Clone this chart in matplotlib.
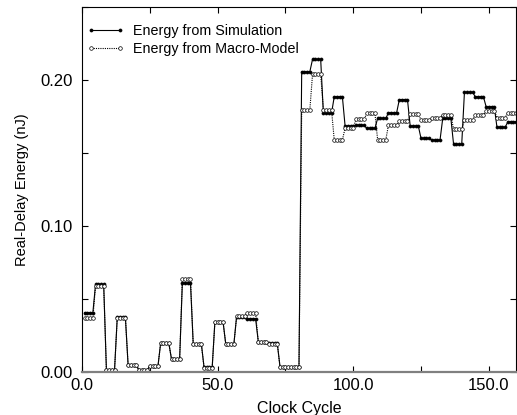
import numpy as np
import matplotlib
matplotlib.use('Agg')
import matplotlib.pyplot as plt
from matplotlib.ticker import MultipleLocator, FormatStrFormatter

plt.rcParams['font.family'] = ['Liberation Sans', 'DejaVu Sans']

# energy per block of 4 clock cycles (nJ)
sim_levels = [0.0406, 0.0600, 0.0014, 0.0375, 0.0048, 0.0014, 0.0040, 0.0199, 0.0089, 0.0610,
              0.0194, 0.0032, 0.0345, 0.0192, 0.0379, 0.0365, 0.0208, 0.0196, 0.0037, 0.0037,
              0.2057, 0.2142, 0.1772, 0.1886, 0.1685, 0.1690, 0.1669, 0.1737, 0.1776, 0.1866,
              0.1685, 0.1600, 0.1589, 0.1737, 0.1560, 0.1916, 0.1886, 0.1817, 0.1676, 0.1714]
macro_levels = [0.0368, 0.0590, 0.0014, 0.0372, 0.0046, 0.0012, 0.0038, 0.0197, 0.0087, 0.0635,
                0.0192, 0.0030, 0.0343, 0.0190, 0.0383, 0.0404, 0.0206, 0.0194, 0.0035, 0.0035,
                0.1795, 0.2041, 0.1795, 0.1590, 0.1670, 0.1730, 0.1772, 0.1590, 0.1692, 0.1717,
                0.1767, 0.1726, 0.1737, 0.1762, 0.1662, 0.1726, 0.1760, 0.1790, 0.1742, 0.1776]
block_len = 4

cycles = np.arange(1, len(sim_levels) * block_len + 1)
sim_energy = np.repeat(sim_levels, block_len)
macro_energy = np.repeat(macro_levels, block_len)

fig = plt.figure(figsize=(5.17, 4.15), dpi=100)
ax = fig.add_axes([0.1586, 0.1036, 0.8394, 0.8794])

ax.plot(cycles, sim_energy, color='black', linewidth=0.8, linestyle='-',
        marker='o', markersize=2.2, markerfacecolor='black', markeredgewidth=0.5,
        label='Energy from Simulation')
ax.plot(cycles, macro_energy, color='black', linewidth=0.8, linestyle=(0, (1, 1)),
        marker='o', markersize=2.6, markerfacecolor='white', markeredgewidth=0.5,
        label='Energy from Macro-Model')

ax.set_xlim(0, 160)
ax.set_ylim(0, 0.25)
ax.xaxis.set_major_locator(MultipleLocator(50))
ax.xaxis.set_minor_locator(MultipleLocator(25))
ax.yaxis.set_major_locator(MultipleLocator(0.1))
ax.yaxis.set_minor_locator(MultipleLocator(0.05))
ax.xaxis.set_major_formatter(FormatStrFormatter('%.1f'))
ax.yaxis.set_major_formatter(FormatStrFormatter('%.2f'))
ax.tick_params(which='both', direction='in', top=True, right=True, labelsize=12)
ax.tick_params(which='major', length=4, width=0.8)
ax.tick_params(which='minor', length=4, width=0.8)
ax.tick_params(axis='y', pad=7)
ax.tick_params(axis='x', pad=4)

for side in ['top', 'right', 'left']:
    ax.spines[side].set_linewidth(0.8)
ax.spines['bottom'].set_color('gray')
ax.spines['bottom'].set_linewidth(1.6)

ax.set_xlabel('Clock Cycle', fontsize=11.5, labelpad=6)
ax.set_ylabel('Real-Delay Energy (nJ)', fontsize=10.5, labelpad=8)

ax.legend(loc='upper left', bbox_to_anchor=(0.0115, 0.953), frameon=False,
          fontsize=10.3, numpoints=2, handlelength=2.6, handletextpad=0.6,
          borderpad=0, borderaxespad=0, labelspacing=0.3)

fig.savefig('out.png', dpi=100)
